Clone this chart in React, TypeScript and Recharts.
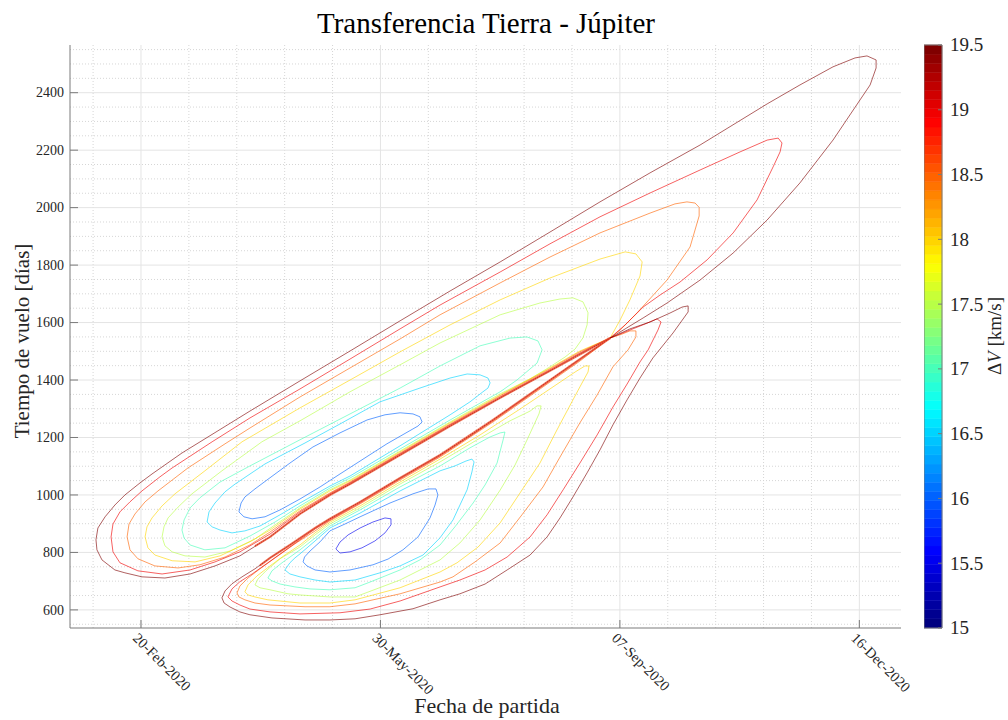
import React from 'react';
import { ComposedChart, Line, XAxis, YAxis, ReferenceLine, ReferenceArea } from 'recharts';

const SERIF = '"Liberation Serif", "Times New Roman", serif';
const AXIS = '#7a7a7a';
const TXT = '#262626';

// ---------- axes ----------
const X_DOMAIN: [number, number] = [20.35, 367.4]; // days since 1-Jan-2020
const Y_DOMAIN: [number, number] = [537, 2566];
const xTicks = [50, 150, 250, 350];
const xTickLabels = ['20-Feb-2020', '30-May-2020', '07-Sep-2020', '16-Dec-2020'];
const yTicks = [600, 800, 1000, 1200, 1400, 1600, 1800, 2000, 2200, 2400];
const xMinor = [30, 70, 90, 110, 130, 170, 190, 210, 230, 270, 290, 310, 330];
const yMinor = [550, 650, 700, 750, 850, 900, 950, 1050, 1100, 1150, 1250, 1300, 1350, 1450, 1500, 1550, 1650, 1700, 1750, 1850, 1900, 1950, 2050, 2100, 2150, 2250, 2300, 2350, 2450, 2500, 2550];
const cbTicks = [15, 15.5, 16, 16.5, 17, 17.5, 18, 18.5, 19, 19.5];
const CB_MIN = 15;
const CB_MAX = 19.5;

// ---------- contour lines: [departure day, flight time] ----------
const U160 = [[90.9,941],[91.8,972],[93.4,993],[97.6,1021],[102.6,1052],[112.2,1111],[121.8,1167],[133.1,1216],[144.4,1261],[151.9,1279],[158.2,1286],[163.6,1282],[166.5,1272],[167.4,1254],[165.7,1240],[163.6,1230],[152.7,1178],[141.5,1118],[133.1,1073],[124.8,1028],[116.4,986],[108.1,948],[101.8,924],[96.4,917],[93.0,924],[90.9,941]];
const U165 = [[77.6,906],[78.4,941],[80.9,972],[85.1,1011],[89.3,1038],[101.8,1108],[118.5,1181],[133.1,1247],[149.8,1324],[166.5,1372],[179.1,1407],[186.2,1421],[191.6,1418],[194.9,1407],[195.8,1390],[194.9,1372],[192.8,1359],[187.4,1324],[179.1,1279],[158.2,1171],[137.3,1066],[128.9,1031],[116.4,972],[108.1,931],[99.7,892],[93.4,875],[88.0,868],[83.0,878],[79.7,889],[77.6,906]];
const U170 = [[67.1,878],[68.0,913],[70.5,955],[74.6,990],[83.0,1045],[95.5,1101],[116.4,1192],[137.3,1282],[158.2,1372],[174.9,1449],[191.6,1519],[204.1,1546],[211.2,1550],[215.8,1536],[217.5,1505],[215.4,1459],[207.0,1400],[200.0,1359],[179.1,1261],[158.2,1160],[137.3,1059],[128.9,1024],[116.4,962],[106.0,906],[95.5,857],[85.1,816],[76.7,809],[70.5,826],[68.0,850],[67.1,878]];
const U175 = [[58.8,854],[59.6,889],[61.3,920],[65.5,958],[71.3,1004],[83.8,1084],[100.5,1185],[116.4,1258],[137.3,1359],[158.2,1453],[174.9,1529],[200.0,1627],[216.6,1668],[225.0,1682],[230.4,1686],[234.6,1672],[236.7,1634],[236.3,1592],[234.6,1547],[231.3,1508],[227.1,1480],[220.8,1446],[212.5,1404],[200.0,1352],[179.1,1254],[158.2,1153],[137.3,1052],[128.9,1018],[116.4,955],[106.0,896],[97.6,847],[87.2,805],[76.7,784],[68.4,788],[63.0,802],[60.0,823],[58.8,854]];
const U180 = [[51.7,854],[52.5,889],[54.6,920],[58.8,962],[64.2,1004],[76.7,1084],[92.2,1185],[116.4,1303],[137.3,1400],[158.2,1498],[179.1,1592],[200.0,1679],[220.8,1755],[241.7,1821],[252.2,1846],[256.7,1839],[259.3,1811],[258.4,1762],[254.2,1679],[250.1,1609],[245.9,1546],[233.3,1501],[220.8,1442],[200.0,1348],[179.1,1251],[158.2,1150],[137.3,1049],[128.9,1014],[116.4,951],[103.9,878],[95.5,837],[83.0,788],[72.6,767],[63.0,771],[55.8,791],[52.9,816],[51.7,854]];
const U185 = [[44.2,854],[45.0,899],[47.5,934],[51.7,976],[57.1,1014],[69.6,1094],[85.1,1178],[95.5,1233],[116.4,1341],[137.3,1442],[158.2,1543],[174.9,1627],[200.0,1738],[220.8,1828],[241.7,1912],[262.6,1981],[273.0,2013],[278.0,2020],[281.4,2016],[283.1,2001],[283.1,1971],[279.3,1863],[269.7,1748],[257.2,1634],[250.1,1574],[245.9,1546],[233.3,1498],[220.8,1439],[200.0,1345],[179.1,1247],[158.2,1146],[137.3,1045],[128.9,1007],[116.4,945],[103.9,871],[95.5,826],[85.1,784],[74.6,757],[65.5,746],[55.8,753],[48.7,778],[45.4,809],[44.2,854]];
const U190 = [[37.5,854],[38.3,899],[41.2,941],[45.4,976],[50.4,1014],[57.9,1063],[63.0,1094],[79.7,1185],[95.5,1268],[116.4,1369],[137.3,1473],[158.2,1578],[174.9,1661],[200.0,1776],[220.8,1874],[241.7,1968],[262.6,2051],[283.5,2131],[300.2,2194],[311.5,2235],[316.1,2242],[317.7,2225],[316.9,2194],[314.0,2142],[307.3,2027],[297.3,1912],[286.4,1818],[275.1,1741],[266.8,1696],[259.7,1654],[252.2,1592],[245.9,1546],[233.3,1494],[220.8,1435],[200.0,1341],[179.1,1244],[158.2,1143],[137.3,1042],[128.9,1004],[116.4,941],[103.9,864],[91.3,802],[80.9,767],[70.5,739],[58.8,725],[48.7,736],[41.2,764],[38.3,802],[37.5,854]];
const U195 = [[31.2,844],[32.0,885],[35.0,924],[39.1,965],[43.3,1000],[49.6,1042],[54.6,1073],[67.1,1146],[95.5,1292],[116.4,1397],[137.3,1501],[158.2,1606],[179.1,1710],[200.0,1811],[220.8,1915],[241.7,2020],[262.6,2121],[283.5,2218],[311.5,2361],[325.2,2427],[339.0,2490],[348.2,2521],[353.2,2528],[357.0,2514],[357.0,2486],[354.5,2427],[350.3,2375],[339.0,2235],[325.2,2086],[311.5,1957],[297.3,1842],[283.5,1748],[269.7,1668],[259.7,1616],[252.2,1578],[245.9,1546],[233.3,1491],[220.8,1432],[200.0,1338],[179.1,1240],[158.2,1139],[137.3,1038],[128.9,1000],[116.4,934],[103.9,854],[91.3,788],[80.9,753],[70.5,725],[60.0,711],[50.4,715],[43.3,729],[39.1,739],[33.7,774],[31.6,809],[31.2,844]];

const L155 = [[131.4,812],[133.1,836],[136.5,861],[141.5,885],[146.9,906],[151.9,920],[154.4,917],[154.4,896],[151.9,868],[147.7,840],[142.3,816],[137.3,802],[133.1,798],[131.4,812]];
const L160 = [[117.7,767],[118.3,784],[120.6,805],[124.8,837],[128.9,875],[135.2,899],[141.5,924],[154.0,972],[163.6,1004],[169.9,1021],[173.2,1021],[174.0,1000],[172.8,965],[170.7,920],[165.7,854],[159.4,809],[153.2,777],[146.9,757],[137.3,739],[128.9,732],[122.7,739],[119.3,753],[117.7,767]];
const L165 = [[110.1,739],[112.2,764],[114.3,781],[116.4,795],[122.7,840],[128.9,885],[141.5,937],[158.2,1014],[174.9,1084],[181.1,1101],[185.7,1118],[188.2,1125],[189.1,1115],[188.2,1080],[186.2,1018],[183.2,965],[180.3,913],[174.9,851],[167.8,791],[158.2,753],[149.8,729],[139.4,704],[128.9,697],[122.7,704],[116.4,715],[112.2,725],[110.1,739]];
const L170 = [[103.0,711],[104.7,736],[108.9,764],[116.4,809],[122.7,850],[128.9,892],[141.5,948],[158.2,1028],[174.9,1101],[187.4,1164],[195.8,1202],[200.0,1216],[202.0,1219],[201.2,1191],[198.7,1111],[193.7,1035],[188.7,972],[181.1,889],[174.9,826],[166.5,774],[158.2,739],[145.7,697],[139.4,677],[128.9,670],[120.6,673],[114.3,680],[108.1,690],[104.7,701],[103.0,711]];
const L175 = [[97.6,687],[98.9,708],[102.2,736],[108.1,778],[116.4,819],[122.7,861],[128.9,899],[141.5,955],[158.2,1038],[174.9,1115],[191.6,1198],[204.1,1258],[212.5,1292],[215.4,1310],[217.1,1310],[216.2,1282],[211.2,1191],[206.2,1104],[200.0,1017],[191.6,913],[183.2,833],[174.9,774],[158.2,704],[139.4,645],[128.9,645],[116.4,652],[111.4,656],[103.9,670],[99.7,677],[97.6,687]];
const L180 = [[93.4,663],[94.7,687],[98.4,718],[103.9,753],[110.1,791],[116.4,826],[122.7,868],[128.9,905],[141.5,962],[158.2,1045],[174.9,1125],[191.6,1209],[208.3,1299],[220.8,1369],[231.3,1428],[235.4,1449],[237.1,1449],[236.7,1428],[233.3,1376],[230.4,1331],[223.7,1226],[216.6,1111],[208.3,1007],[200.0,903],[190.8,819],[182.0,764],[174.9,732],[158.2,677],[139.4,635],[128.9,624],[116.4,624],[103.0,635],[97.6,645],[94.7,652],[93.4,663]];
const L185 = [[90.1,659],[91.3,683],[94.7,711],[99.7,743],[106.0,781],[114.3,830],[122.7,875],[128.9,910],[141.5,969],[158.2,1052],[174.9,1132],[197.0,1254],[220.8,1393],[233.3,1466],[245.9,1546],[250.9,1560],[254.2,1571],[256.7,1571],[256.7,1550],[253.4,1505],[247.1,1446],[240.5,1348],[233.3,1251],[225.0,1132],[217.9,1028],[209.1,931],[200.0,833],[189.5,767],[180.3,715],[174.9,697],[158.2,656],[139.4,621],[128.9,611],[118.5,611],[103.9,617],[97.6,624],[93.4,635],[90.9,645],[90.1,659]];
const L190 = [[86.3,645],[88.0,673],[91.3,698],[96.4,725],[103.0,764],[112.2,819],[122.7,882],[128.9,913],[141.5,972],[158.2,1056],[174.9,1136],[197.0,1258],[220.8,1397],[233.3,1470],[245.9,1546],[254.2,1574],[260.5,1595],[265.5,1613],[267.2,1602],[265.9,1574],[261.8,1505],[258.4,1463],[253.0,1386],[247.1,1306],[240.5,1209],[233.3,1111],[226.3,1018],[219.6,931],[212.5,854],[202.9,784],[193.7,739],[183.2,704],[174.9,680],[158.2,631],[145.7,603],[133.1,590],[116.4,586],[103.9,593],[95.5,603],[91.3,617],[88.0,631],[86.3,645]];
const L195 = [[83.8,642],[85.1,666],[88.0,691],[92.2,715],[97.6,743],[103.9,781],[112.2,826],[122.7,885],[128.9,917],[141.5,976],[158.2,1059],[174.9,1139],[187.4,1205],[197.0,1261],[208.3,1327],[220.8,1400],[233.3,1473],[245.9,1546],[254.2,1578],[262.6,1602],[270.9,1633],[276.0,1654],[278.5,1658],[278.5,1637],[272.2,1564],[263.8,1477],[258.4,1407],[253.0,1331],[247.1,1244],[241.7,1157],[236.3,1077],[230.4,993],[225.0,920],[219.6,854],[212.5,791],[202.9,739],[193.7,690],[183.2,656],[174.9,635],[163.6,604],[149.8,583],[139.4,569],[128.9,565],[118.5,565],[104.7,572],[95.5,583],[91.3,593],[87.2,610],[84.7,624],[83.8,642]];

// dense bands where contours pile up (discontinuity)
const BAND_U = [[97.6,822],[103.9,854],[116.4,934],[128.9,1000],[137.3,1038],[158.2,1139],[179.1,1240],[200.0,1338],[220.8,1432],[245.9,1546]];
const BAND_L = [[99.7,755],[103.9,781],[112.2,826],[122.7,885],[128.9,917],[141.5,976],[158.2,1059],[174.9,1139],[197.0,1261],[220.8,1400],[233.3,1473],[245.9,1546]];

const contourLevels = [15.5, 16, 16, 16.5, 16.5, 17, 17, 17.5, 17.5, 18, 18, 18.5, 18.5, 19, 19, 19.5, 19.5];
const contourPaths = [L155, U160, L160, U165, L165, U170, L170, U175, L175, U180, L180, U185, L185, U190, L190, U195, L195];

// ---------- helpers ----------
const clamp = (v: number) => Math.max(0, Math.min(1, v));
const jet = (t: number) => {
  const r = clamp(1.5 - Math.abs(4 * t - 3));
  const g = clamp(1.5 - Math.abs(4 * t - 2));
  const b = clamp(1.5 - Math.abs(4 * t - 1));
  return `rgb(${Math.round(r * 255)},${Math.round(g * 255)},${Math.round(b * 255)})`;
};
const levelColor = (lv: number) => jet((lv - CB_MIN) / (CB_MAX - CB_MIN));
const toPts = (arr: number[][]) => arr.map(([x, y]) => ({ x, y }));

const N_CB = 64;
const cbBands = Array.from({ length: N_CB }, (_, i) => ({
  y1: CB_MIN + (i * (CB_MAX - CB_MIN)) / N_CB,
  y2: CB_MIN + ((i + 1) * (CB_MAX - CB_MIN)) / N_CB,
  color: jet(i / (N_CB - 1)),
}));

// ---------- tick renderers ----------
const XBottomTick = (props: any) => {
  const { x, y, payload } = props;
  const idx = xTicks.indexOf(payload.value);
  const ax = x - 9;
  const ay = y + 11;
  return (
    <g>
      <line x1={x} y1={y} x2={x} y2={y - 8} stroke={AXIS} />
      <text x={ax} y={ay} transform={`rotate(45 ${ax} ${ay})`} textAnchor="start" fontFamily={SERIF} fontSize={14.5} fill={TXT}>
        {xTickLabels[idx]}
      </text>
    </g>
  );
};
const XTopTick = (props: any) => {
  const { x, y } = props;
  return <line x1={x} y1={y} x2={x} y2={y + 8} stroke={AXIS} />;
};
const YLeftTick = (props: any) => {
  const { x, y, payload } = props;
  return (
    <g>
      <line x1={x} y1={y} x2={x + 8} y2={y} stroke={AXIS} />
      <text x={x - 6} y={y} dy="0.34em" textAnchor="end" fontFamily={SERIF} fontSize={14} fill={TXT}>
        {payload.value}
      </text>
    </g>
  );
};
const YRightTick = (props: any) => {
  const { x, y } = props;
  return <line x1={x} y1={y} x2={x - 8} y2={y} stroke={AXIS} />;
};
const CbTick = (props: any) => {
  const { x, y, payload } = props;
  return (
    <g>
      <line x1={x - 4} y1={y} x2={x} y2={y} stroke={AXIS} />
      <text x={x + 8} y={y} dy="0.34em" textAnchor="start" fontFamily={SERIF} fontSize={19} fill={TXT}>
        {payload.value}
      </text>
    </g>
  );
};

export default function App() {
  return (
    <div style={{ position: 'absolute', left: 0, top: 0, width: 1008, height: 720, background: '#fff', overflow: 'hidden' }}>
      <div style={{ position: 'absolute', left: 0, top: 0 }}>
        <ComposedChart width={1008} height={720} margin={{ top: 45, right: 107, bottom: 0, left: 0 }}>
          <XAxis type="number" dataKey="x" domain={X_DOMAIN} ticks={xTicks} interval={0} allowDataOverflow height={92}
            tickSize={0} tickMargin={0} tickLine={false} stroke={AXIS} tick={XBottomTick} />
          <XAxis xAxisId="top" orientation="top" type="number" dataKey="x" domain={X_DOMAIN} ticks={xTicks} interval={0}
            allowDataOverflow height={0} tickSize={0} tickMargin={0} tickLine={false} stroke={AXIS} tick={XTopTick} />
          <YAxis type="number" dataKey="y" domain={Y_DOMAIN} ticks={yTicks} interval={0} allowDataOverflow width={70}
            tickSize={0} tickMargin={0} tickLine={false} stroke={AXIS} tick={YLeftTick} />
          <YAxis yAxisId="right" orientation="right" type="number" dataKey="y" domain={Y_DOMAIN} ticks={yTicks} interval={0}
            allowDataOverflow width={0} tickSize={0} tickMargin={0} tickLine={false} stroke={AXIS} tick={YRightTick} />

          {xMinor.map((v) => (
            <ReferenceLine key={'xm' + v} x={v} stroke="#d6d6d6" strokeDasharray="1 2" />
          ))}
          {yMinor.map((v) => (
            <ReferenceLine key={'ym' + v} y={v} stroke="#d6d6d6" strokeDasharray="1 2" />
          ))}
          {xTicks.map((v) => (
            <ReferenceLine key={'xM' + v} x={v} stroke="#e4e4e4" />
          ))}
          {yTicks.map((v) => (
            <ReferenceLine key={'yM' + v} y={v} stroke="#e4e4e4" />
          ))}

          {contourPaths.map((p, i) => (
            <Line key={'c' + i} data={toPts(p)} dataKey="y" type="linear" stroke={levelColor(contourLevels[i])}
              strokeWidth={1} strokeOpacity={0.62} dot={false} activeDot={false} isAnimationActive={false} />
          ))}

          <Line data={toPts(BAND_U)} dataKey="y" type="linear" stroke="#f0603c" strokeWidth={2.2} strokeOpacity={0.8}
            dot={false} activeDot={false} isAnimationActive={false} />
          <Line data={toPts(BAND_L)} dataKey="y" type="linear" stroke="#f0603c" strokeWidth={2.2} strokeOpacity={0.8}
            dot={false} activeDot={false} isAnimationActive={false} />
          <Line data={toPts(BAND_U)} dataKey="y" type="linear" stroke="#c41e1e" strokeWidth={1} strokeDasharray="1.2 1.2"
            strokeOpacity={0.85} dot={false} activeDot={false} isAnimationActive={false} />
          <Line data={toPts(BAND_L)} dataKey="y" type="linear" stroke="#c41e1e" strokeWidth={1} strokeDasharray="1.2 1.2"
            strokeOpacity={0.85} dot={false} activeDot={false} isAnimationActive={false} />
        </ComposedChart>
      </div>

      <div style={{ position: 'absolute', left: 924, top: 0 }}>
        <ComposedChart width={84} height={720} margin={{ top: 45, right: 0, bottom: 92, left: 0 }}>
          <XAxis type="number" dataKey="x" domain={[0, 1]} hide />
          <YAxis type="number" dataKey="y" orientation="right" domain={[CB_MIN, CB_MAX]} ticks={cbTicks} interval={0}
            allowDataOverflow width={66} tickSize={0} tickMargin={0} tickLine={false} axisLine={false} tick={CbTick} />
          {cbBands.map((b, i) => (
            <ReferenceArea key={'cb' + i} x1={0} x2={1} y1={b.y1} y2={b.y2} fill={b.color} fillOpacity={1}
              stroke={b.color} strokeWidth={0.5} />
          ))}
          <ReferenceArea x1={0} x2={1} y1={CB_MIN} y2={CB_MAX} fill="none" stroke={AXIS} strokeWidth={1} />
          <Line data={[{ x: 0, y: CB_MIN }, { x: 1, y: CB_MAX }]} dataKey="y" stroke="none" dot={false}
            activeDot={false} isAnimationActive={false} />
        </ComposedChart>
      </div>

      <svg width={1008} height={720} style={{ position: 'absolute', left: 0, top: 0, pointerEvents: 'none' }}>
        <text x={486} y={33} textAnchor="middle" fontFamily={SERIF} fontSize={29} fill="#000">
          Transferencia Tierra - Júpiter
        </text>
        <text x={487} y={713} textAnchor="middle" fontFamily={SERIF} fontSize={22} fill={TXT}>
          Fecha de partida
        </text>
        <text x={29} y={341} transform="rotate(-90 29 341)" textAnchor="middle" fontFamily={SERIF} fontSize={21} fill={TXT}>
          Tiempo de vuelo [días]
        </text>
        <text x={1001} y={336} transform="rotate(-90 1001 336)" textAnchor="middle" fontFamily={SERIF} fontSize={19} fill={TXT}>
          Δ<tspan fontStyle="italic">V</tspan> [km/s]
        </text>
      </svg>
    </div>
  );
}
